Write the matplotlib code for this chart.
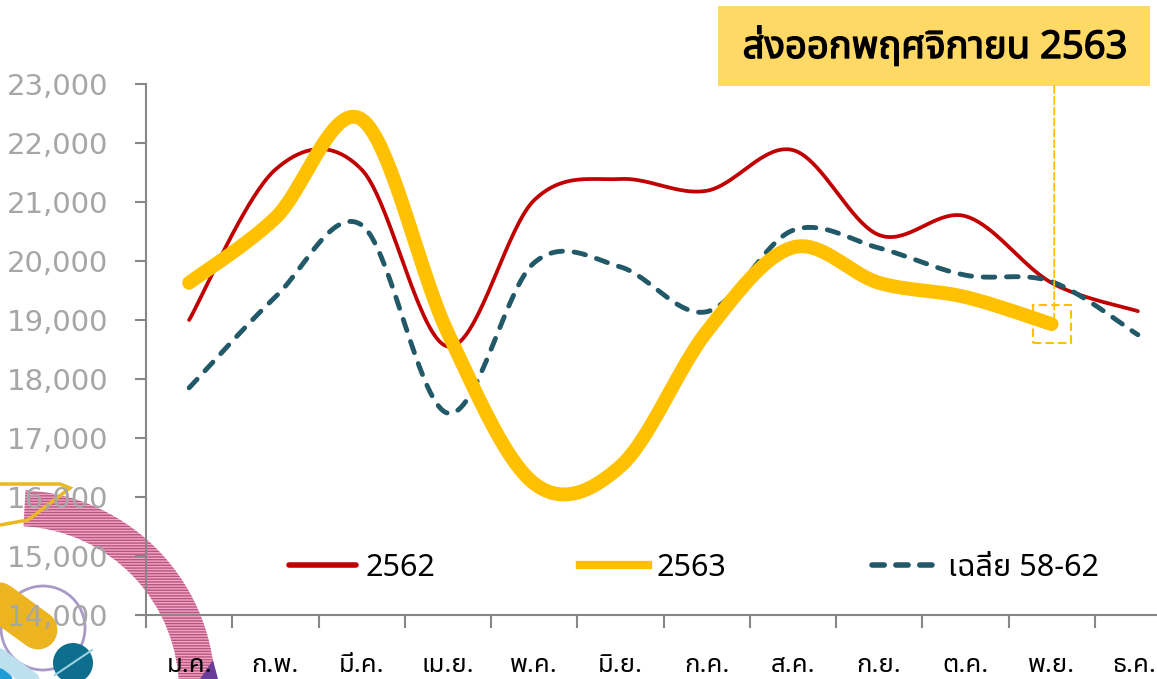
import numpy as np
import matplotlib
matplotlib.use("Agg")
import matplotlib.pyplot as plt
from matplotlib import font_manager, transforms
import matplotlib.patheffects as pe
from matplotlib.ft2font import FT2Font
from matplotlib.lines import Line2D
from matplotlib.patches import Rectangle, Wedge, Circle, Polygon, ConnectionPatch

# ---------------- data ----------------
months = ["ม.ค.", "ก.พ.", "มี.ค.", "เม.ย.", "พ.ค.", "มิ.ย.",
          "ก.ค.", "ส.ค.", "ก.ย.", "ต.ค.", "พ.ย.", "ธ.ค."]
y2562 = [19000, 21550, 21550, 18550, 21030, 21390, 21190, 21880, 20440, 20760, 19630, 19150]
y2563 = [19630, 20730, 22400, 18780, 16230, 16520, 18800, 20230, 19630, 19390, 18930]
avg5862 = [17850, 19390, 20610, 17420, 19970, 19900, 19140, 20520, 20220, 19760, 19650, 18750]
yticks = [14000, 15000, 16000, 17000, 18000, 19000, 20000, 21000, 22000, 23000]
legend_labels = ["2562", "2563", "เฉลี่ย 58-62"]
title_text = "ส่งออกพฤศจิกายน 2563"
highlight_index = 10  # พ.ย.

# ---------------- fonts ----------------
def find_thai_font():
    pref = ["Noto Sans Thai", "Noto Sans Thai Looped", "Noto Sans Thai UI", "Sarabun",
            "TH Sarabun New", "Loma", "Garuda", "Waree", "Umpush", "Sawasdee",
            "Kinnari", "Norasi", "Laksaman", "Tlwg Typo", "Tlwg Typist", "Purisa",
            "Noto Serif Thai"]
    found = []
    for f in font_manager.fontManager.ttflist:
        try:
            ft = FT2Font(f.fname)
            cm = ft.get_charmap()
            if 0x0E2A in cm and 0x0E48 in cm and 0x0E04 in cm:
                found.append(f.name)
        except Exception:
            pass
    for p in pref:
        if p in found:
            return p
    return found[0] if found else None

thai = find_thai_font()
fam = ([thai] if thai else []) + ["DejaVu Sans"]
plt.rcParams["font.family"] = fam

# ---------------- smoothing (Excel-like) ----------------
def smooth(ys, n=40):
    P = np.column_stack([np.arange(len(ys)), np.asarray(ys, float)])
    out = []
    for i in range(len(P) - 1):
        p0 = P[i - 1] if i > 0 else P[i]
        p1, p2 = P[i], P[i + 1]
        p3 = P[i + 2] if i + 2 < len(P) else P[i + 1]
        c1 = p1 + (p2 - p0) / 6.0
        c2 = p2 - (p3 - p1) / 6.0
        t = np.linspace(0, 1, n)[:, None]
        seg = (1 - t) ** 3 * p1 + 3 * (1 - t) ** 2 * t * c1 + 3 * (1 - t) * t ** 2 * c2 + t ** 3 * p2
        out.append(seg if i == 0 else seg[1:])
    s = np.vstack(out)
    return s[:, 0], s[:, 1]

W, H = 1157, 679
fig = plt.figure(figsize=(W / 100, H / 100), dpi=100)
fig.patch.set_facecolor("white")

# pixel transform (x right, y down from top-left)
pxT = transforms.Affine2D().scale(1 / 100, -1 / 100).translate(0, H / 100) + fig.dpi_scale_trans

# ---------------- decorative logo (bottom-left) ----------------
deco = []
deco.append(Wedge((15, 690), 200, -87, 0, width=36, facecolor="#F4A3C6", edgecolor="none"))
deco.append(Wedge((15, 690), 200, -87, 0, width=36, facecolor="none", edgecolor="#B4577F",
                  linewidth=0, hatch="------"))
deco.append(Polygon([(0, 484), (60, 484), (70, 488), (28, 520), (0, 525)], closed=False,
                    facecolor="none", edgecolor="#E9B822", linewidth=2.5))
deco.append(Circle((43, 628), 42, facecolor="none", edgecolor="#A99BC8", linewidth=2))
deco.append(Polygon([(200, 679), (213, 660), (218, 679)], closed=True, facecolor="#6A3D9A", edgecolor="none"))
for p in deco:
    p.set_transform(pxT)
    p.set_zorder(-5)
    fig.add_artist(p)
for (xs, ys, lw, c) in [([-20, 38], [588, 630], 28, "#ECB520"),
                        ([-10, 45], [650, 690], 12, "#BCE0EE"),
                        ([-10, 25], [668, 695], 10, "#1E9CD7")]:
    l = Line2D(xs, ys, linewidth=lw, color=c, solid_capstyle="round", transform=pxT, zorder=-5)
    fig.add_artist(l)
tc = Circle((73, 663), 20, facecolor="#0D6E8E", edgecolor="none", transform=pxT, zorder=-4)
fig.add_artist(tc)
fig.add_artist(Line2D([55, 92], [675, 650], linewidth=1.5, color="#9CCFE0", transform=pxT, zorder=-3))

# ---------------- axes ----------------
left, right, top, bottom = 146, 1181, 84, 615
ax = fig.add_axes([left / W, 1 - bottom / H, (right - left) / W, (bottom - top) / H])
ax.patch.set_visible(False)
n = len(months)
ax.set_xlim(-0.5, n - 0.5)
ax.set_ylim(yticks[0], yticks[-1])

spine_c = "#878787"
for s in ["top", "right"]:
    ax.spines[s].set_visible(False)
for s in ["left", "bottom"]:
    ax.spines[s].set_color(spine_c)
    ax.spines[s].set_linewidth(1.5)

ax.set_yticks(yticks)
ax.set_yticklabels([f"{v:,}" for v in yticks], fontsize=21, color="#A6A6A6",
                   family=["DejaVu Sans"])
ax.tick_params(axis="y", length=8, width=1.5, color=spine_c, pad=19)

ax.set_xticks(np.arange(n))
ax.set_xticklabels(months, fontsize=18.5, color="black")
ax.set_xticks(np.arange(-0.5, n, 1.0), minor=True)
ax.tick_params(axis="x", which="major", length=0, pad=27)
ax.tick_params(axis="x", which="minor", length=9, width=1.5, color=spine_c)
# keep the last month label inside the picture (as in the reference)
lab = ax.get_xticklabels()[-1]
lab.set_transform(lab.get_transform() + transforms.ScaledTranslation(-4 / 100, 0, fig.dpi_scale_trans))

# ---------------- lines ----------------
red_c, gold_c, teal_c = "#C00000", "#FFC000", "#215968"
x, y = smooth(y2562)
ax.plot(x, y, color=red_c, lw=2.7, solid_capstyle="round", zorder=3)
x, y = smooth(avg5862)
ax.plot(x, y, color=teal_c, lw=3.5, dashes=(2.4, 2.4), dash_capstyle="round", zorder=4)
x, y = smooth(y2563)
ax.plot(x, y, color=gold_c, lw=10, solid_capstyle="round", zorder=5)

# ---------------- highlight square + connector ----------------
hx, hy = highlight_index, y2563[highlight_index]
half_x = 19 / ((right - left) / n)
half_y = 19 / ((bottom - top) / (yticks[-1] - yticks[0]))
ax.add_patch(Rectangle((hx - half_x, hy - half_y), 2 * half_x, 2 * half_y, facecolor="none",
                       edgecolor=gold_c, linewidth=1.5, linestyle=(0, (4, 2)), zorder=6))
blend = transforms.blended_transform_factory(ax.transData, fig.transFigure)
con = ConnectionPatch(xyA=(hx + 0.03, 1 - 86 / H), coordsA=blend,
                      xyB=(hx + 0.03, hy + 0.3 * half_y), coordsB=ax.transData,
                      color=gold_c, linewidth=1.3, linestyle=(0, (4, 2)), zorder=6)
fig.add_artist(con)

# ---------------- title box ----------------
fig.add_artist(Rectangle((718 / W, 1 - 86 / H), (1150 - 718) / W, (86 - 6) / H,
                         transform=fig.transFigure, facecolor="#FFD966", edgecolor="none", zorder=1))
fig.text(935 / W, 1 - 47 / H, title_text, ha="center", va="center", fontsize=27.5,
         fontweight="bold", color="black", zorder=2,
         path_effects=[pe.withStroke(linewidth=1.0, foreground="black")])

# ---------------- legend ----------------
handles = [Line2D([], [], color=red_c, lw=4, solid_capstyle="round"),
           Line2D([], [], color=gold_c, lw=6),
           Line2D([], [], color=teal_c, lw=4, dashes=(2.2, 2.1), dash_capstyle="round")]
fig.legend(handles, legend_labels, loc="center left", bbox_to_anchor=(289 / W, 1 - 568 / H),
           ncol=3, frameon=False, fontsize=22, handlelength=2.2, handletextpad=0.3,
           columnspacing=4.75, borderpad=0, borderaxespad=0)

fig.savefig("out.png", dpi=100)
